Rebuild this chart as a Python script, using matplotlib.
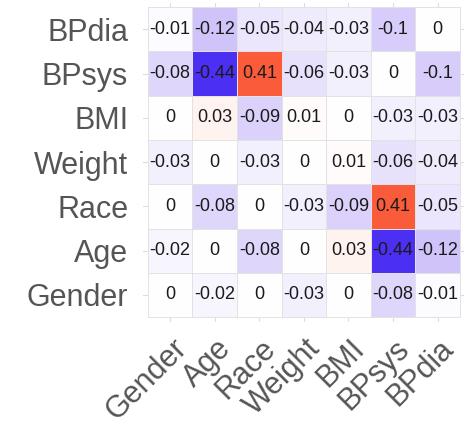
import matplotlib
matplotlib.use("Agg")
import matplotlib.pyplot as plt
import matplotlib.transforms as mtransforms
from matplotlib.colors import LinearSegmentedColormap, Normalize
import numpy as np

plt.rcParams["font.family"] = ["Liberation Sans", "DejaVu Sans"]

# variable order, bottom-to-top on y and left-to-right on x
variables = ["Gender", "Age", "Race", "Weight", "BMI", "BPsys", "BPdia"]

# correlation rows, one per variable (same order as columns)
r_gender = [0, -0.02, 0, -0.03, 0, -0.08, -0.01]
r_age    = [-0.02, 0, -0.08, 0, 0.03, -0.44, -0.12]
r_race   = [0, -0.08, 0, -0.03, -0.09, 0.41, -0.05]
r_weight = [-0.03, 0, -0.03, 0, 0.01, -0.06, -0.04]
r_bmi    = [0, 0.03, -0.09, 0.01, 0, -0.03, -0.03]
r_bpsys  = [-0.08, -0.44, 0.41, -0.06, -0.03, 0, -0.1]
r_bpdia  = [-0.01, -0.12, -0.05, -0.04, -0.03, -0.1, 0]

corr = np.array([r_gender, r_age, r_race, r_weight, r_bmi, r_bpsys, r_bpdia])
n = len(variables)

# blue - white - red, centred on zero
cmap = LinearSegmentedColormap.from_list(
    "bwr2", ["#4b30f4", "#a890f5", "#ffffff", "#fca58f", "#f9502f"])
lim = np.abs(corr).max()
norm = Normalize(-lim, lim)

fig = plt.figure(figsize=(4.75, 4.28), dpi=100, facecolor="white")
ax = fig.add_axes([0.302, 0.2488, 0.6756, 0.745])

ax.set_xlim(-0.6, n - 0.4)
ax.set_ylim(-0.6, n - 0.4)
ax.set_xticks(range(n))
ax.set_yticks(range(n))
ax.grid(True, color="#dcdcdc", lw=0.8, zorder=0)
ax.set_axisbelow(True)
for s in ax.spines.values():
    s.set_visible(False)

edges = np.arange(n + 1) - 0.5
ax.pcolormesh(edges, edges, corr, cmap=cmap, norm=norm,
              edgecolors="#e2e2e2", linewidth=0.6, zorder=2)

for i in range(n):
    for j in range(n):
        ax.text(j, i, f"{corr[i, j]:g}", ha="center", va="center",
                fontsize=13, color="#1a1a1a", zorder=3)

ax.tick_params(length=0, labelsize=22, labelcolor="#555555")
ax.tick_params(axis="y", pad=11)
ax.set_yticklabels(variables)
ax.set_xticklabels(variables, rotation=45, ha="right", va="top",
                   rotation_mode="anchor")
offset = mtransforms.ScaledTranslation(1 / 72, -5 / 72, fig.dpi_scale_trans)
for lbl in ax.get_xticklabels():
    lbl.set_transform(lbl.get_transform() + offset)

fig.savefig("out.png", dpi=100, facecolor="white")
